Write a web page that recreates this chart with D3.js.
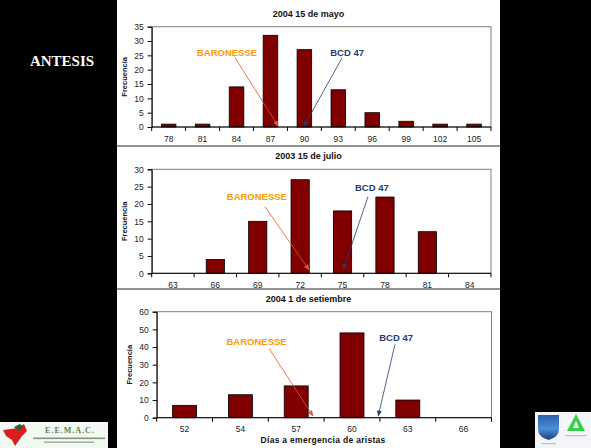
<!DOCTYPE html>
<html>
<head>
<meta charset="utf-8">
<script src="https://cdn.jsdelivr.net/npm/d3@7"></script>
<style>
  html, body { margin: 0; padding: 0; background: #000; }
  svg { display: block; }
  text { font-family: "Liberation Sans", Arial, sans-serif; }
</style>
</head>
<body>
<svg id="slide" width="591" height="448"></svg>
<script>
// Frequency of days to anthesis, three sowing dates
const mayoCats = ["78", "81", "84", "87", "90", "93", "96", "99", "102", "105"];
const mayoValues = [1, 1, 14, 32, 27, 13, 5, 2, 1, 1];
const mayoYTicks = [0, 5, 10, 15, 20, 25, 30, 35];

const julioCats = ["63", "66", "69", "72", "75", "78", "81", "84"];
const julioValues = [0, 4, 15, 27, 18, 22, 12, 0];
const julioYTicks = [0, 5, 10, 15, 20, 25, 30];

const setiembreCats = ["52", "54", "57", "60", "63", "66"];
const setiembreValues = [7, 13, 18, 48, 10, 0];
const setiembreYTicks = [0, 10, 20, 30, 40, 50, 60];

const chartTitles = ["2004 15 de mayo", "2003 15 de julio", "2004 1 de setiembre"];
const yAxisTitle = "Frecuencia";
const xAxisTitle = "Días a emergencia de aristas";
const cultivarNames = ["BARONESSE", "BCD 47"];

// Cultivar pointers, in (category index, frequency) units: label, arrow tail, arrow tip
const mayoNotes = [
  { text: [2.22, 25.8], tail: [2.46, 24.1], tip: [3.73, 0.3] },
  { text: [5.76, 25.8], tail: [5.61, 24.1], tip: [4.49, 0.3] }
];
const julioNotes = [
  { text: [2.48, 21.8], tail: [2.67, 19.2], tip: [3.71, 1.0] },
  { text: [5.19, 24.6], tail: [5.10, 22.1], tip: [4.52, 1.2] }
];
const setiembreNotes = [
  { text: [1.79, 42.3], tail: [2.02, 38.9], tip: [2.80, 1.0] },
  { text: [4.29, 44.9], tail: [4.27, 41.5], tip: [3.97, 1.0] }
];

const svg = d3.select("#slide");
const W = 591, H = 448;
const panelLeft = 117, panelRight = 500;

// slide background and white content column
svg.append("rect").attr("width", W).attr("height", H).attr("fill", "#000");
svg.append("rect").attr("x", panelLeft).attr("y", 0)
  .attr("width", panelRight - panelLeft).attr("height", H).attr("fill", "#fff");

// section heading
svg.append("text")
  .attr("x", 62).attr("y", 63)
  .attr("text-anchor", "middle").attr("dominant-baseline", "middle")
  .style("font-family", "'Liberation Serif', 'Times New Roman', serif")
  .style("font-weight", "bold").style("font-size", "15px")
  .attr("fill", "#fff")
  .text("ANTESIS");

// arrowhead markers
const defs = svg.append("defs");
const noteColors = [
  { text: "#FF9900", line: "#E5562A" },
  { text: "#1F3C6E", line: "#1F3C6E" }
];
noteColors.forEach((c, i) => {
  defs.append("marker")
    .attr("id", "arrow" + i)
    .attr("viewBox", "0 0 10 10").attr("refX", 9).attr("refY", 5)
    .attr("markerWidth", 6).attr("markerHeight", 6)
    .attr("markerUnits", "userSpaceOnUse")
    .attr("orient", "auto")
    .append("path").attr("d", "M0,1 L10,5 L0,9 Z").attr("fill", c.line);
});

function drawChart(cfg) {
  const { cats, values, yTicks, box, title, notes, xTitle, yMax } = cfg;
  const g = svg.append("g");
  const n = cats.length;

  const x = d3.scaleBand().domain(cats).range([box.left, box.right])
    .paddingInner(0.57).paddingOuter(0.285);
  const xi = d3.scaleLinear().domain([0, n]).range([box.left, box.right]);
  const y = d3.scaleLinear().domain([0, yMax]).range([box.bottom, box.top]);

  // plot area frame
  g.append("rect")
    .attr("x", box.left).attr("y", box.top)
    .attr("width", box.right - box.left).attr("height", box.bottom - box.top)
    .attr("fill", "none").attr("stroke", "#7f7f7f").attr("stroke-width", 1);

  // bars
  g.selectAll("rect.bar").data(values).enter().append("rect")
    .attr("class", "bar")
    .attr("x", (d, i) => x(cats[i]))
    .attr("y", d => y(d))
    .attr("width", x.bandwidth())
    .attr("height", d => box.bottom - y(d))
    .attr("fill", "#800000")
    .attr("stroke", "#000").attr("stroke-width", 0.8);

  // y axis
  const yAxis = g.append("g")
    .attr("transform", `translate(${box.left},0)`)
    .call(d3.axisLeft(y).tickValues(yTicks).tickSize(4).tickPadding(4));
  yAxis.select(".domain").attr("stroke", "#000");
  yAxis.selectAll(".tick line").attr("stroke", "#000");
  yAxis.selectAll("text").style("font-size", "8.5px").attr("fill", "#222")
    .style("font-family", "'Liberation Sans', Arial, sans-serif");

  // x axis: labels centred in categories, tick marks on category boundaries
  const xAxis = g.append("g")
    .attr("transform", `translate(0,${box.bottom})`)
    .call(d3.axisBottom(x).tickSize(0).tickPadding(8.5));
  xAxis.select(".domain").remove();
  xAxis.selectAll("text").style("font-size", "8.5px").attr("fill", "#222")
    .style("font-family", "'Liberation Sans', Arial, sans-serif");
  g.append("line")
    .attr("x1", box.left).attr("x2", box.right)
    .attr("y1", box.bottom).attr("y2", box.bottom)
    .attr("stroke", "#000").attr("stroke-width", 1);
  g.selectAll("line.bound").data(d3.range(n + 1)).enter().append("line")
    .attr("class", "bound")
    .attr("x1", d => xi(d)).attr("x2", d => xi(d))
    .attr("y1", box.bottom).attr("y2", box.bottom + 4)
    .attr("stroke", "#000").attr("stroke-width", 1);

  // title
  g.append("text")
    .attr("x", (panelLeft + panelRight) / 2).attr("y", box.top - 12.5)
    .attr("text-anchor", "middle").attr("dominant-baseline", "middle")
    .style("font-weight", "bold").style("font-size", "9px").attr("fill", "#111")
    .text(title);

  // y axis title
  g.append("text")
    .attr("transform", `translate(${box.left - 27},${(box.top + box.bottom) / 2}) rotate(-90)`)
    .attr("text-anchor", "middle").attr("dominant-baseline", "middle")
    .style("font-weight", "bold").style("font-size", "7.5px").attr("fill", "#111")
    .text(yAxisTitle);

  if (xTitle) {
    g.append("text")
      .attr("x", (box.left + box.right) / 2 - 1).attr("y", box.bottom + 23)
      .attr("text-anchor", "middle").attr("dominant-baseline", "middle")
      .style("font-weight", "bold").style("font-size", "8.5px")
      .style("letter-spacing", "0.3px").attr("fill", "#111")
      .text(xTitle);
  }

  // cultivar pointers
  notes.forEach((nt, i) => {
    g.append("line")
      .attr("x1", xi(nt.tail[0])).attr("y1", y(nt.tail[1]))
      .attr("x2", xi(nt.tip[0])).attr("y2", y(nt.tip[1]))
      .attr("stroke", noteColors[i].line).attr("stroke-width", 0.8)
      .attr("marker-end", `url(#arrow${i})`);
    g.append("text")
      .attr("x", xi(nt.text[0])).attr("y", y(nt.text[1]))
      .attr("text-anchor", "middle").attr("dominant-baseline", "middle")
      .style("font-weight", "bold").style("font-size", "9.5px")
      .attr("fill", noteColors[i].text)
      .text(cultivarNames[i]);
  });
}

drawChart({
  cats: mayoCats, values: mayoValues, yTicks: mayoYTicks, yMax: 35,
  box: { left: 151.7, right: 491, top: 26.7, bottom: 127 },
  title: chartTitles[0], notes: mayoNotes
});
drawChart({
  cats: julioCats, values: julioValues, yTicks: julioYTicks, yMax: 30,
  box: { left: 151.7, right: 491, top: 169.3, bottom: 273.3 },
  title: chartTitles[1], notes: julioNotes
});
drawChart({
  cats: setiembreCats, values: setiembreValues, yTicks: setiembreYTicks, yMax: 60,
  box: { left: 156.7, right: 491.5, top: 311.7, bottom: 417.7 },
  title: chartTitles[2], notes: setiembreNotes, xTitle: xAxisTitle
});

// separators between the charts
[146, 289].forEach(yy => {
  svg.append("line")
    .attr("x1", panelLeft).attr("x2", panelRight)
    .attr("y1", yy).attr("y2", yy)
    .attr("stroke", "#6e6e6e").attr("stroke-width", 1.5);
});

// institution logos
const logoL = svg.append("g");
logoL.append("rect").attr("x", 0).attr("y", 422).attr("width", 108).attr("height", 26)
  .attr("fill", "#f4f8f2");
logoL.append("path")
  .attr("d", "M3,430 L18,428 L24,424 L27,431 L22,436 L15,446 L12,440 L6,436 Z")
  .attr("fill", "#d81e1e");
logoL.append("path")
  .attr("d", "M14,427 L20,424 L24,427 L19,431 Z").attr("fill", "#3a5a30");
logoL.append("text")
  .attr("x", 70).attr("y", 431)
  .attr("text-anchor", "middle").attr("dominant-baseline", "middle")
  .style("font-family", "'Liberation Serif', serif").style("font-weight", "bold")
  .style("font-size", "8px").style("letter-spacing", "1px")
  .attr("fill", "#4f8a4a").text("E.E.M.A.C.");
logoL.append("rect").attr("x", 33).attr("y", 437.5).attr("width", 72).attr("height", 1.6)
  .attr("fill", "#7d9a7a");
logoL.append("rect").attr("x", 44).attr("y", 441.5).attr("width", 50).attr("height", 1.4)
  .attr("fill", "#9aa69a");

const logoR = svg.append("g");
logoR.append("rect").attr("x", 535).attr("y", 412).attr("width", 56).attr("height", 36)
  .attr("fill", "#f3f5f8");
const shieldGrad = defs.append("linearGradient").attr("id", "shieldGrad")
  .attr("x1", 0).attr("y1", 0).attr("x2", 0).attr("y2", 1);
shieldGrad.append("stop").attr("offset", "0%").attr("stop-color", "#2f5ea8");
shieldGrad.append("stop").attr("offset", "55%").attr("stop-color", "#4a8fd6");
shieldGrad.append("stop").attr("offset", "100%").attr("stop-color", "#1d3f7a");
logoR.append("path")
  .attr("d", "M538,415 L559,415 L559,429 Q559,437 548.5,440 Q538,437 538,429 Z")
  .attr("fill", "url(#shieldGrad)");
logoR.append("path")
  .attr("d", "M576,414 L585,431 L567,431 Z").attr("fill", "#37d04a");
logoR.append("path")
  .attr("d", "M576,421 L579,428 L573,428 Z").attr("fill", "#f3f5f8");
logoR.append("rect").attr("x", 565).attr("y", 435).attr("width", 22).attr("height", 1.2)
  .attr("fill", "#c9b6d6");
logoR.append("rect").attr("x", 541).attr("y", 443).attr("width", 15).attr("height", 1.2)
  .attr("fill", "#b9c0cc");
</script>
</body>
</html>
